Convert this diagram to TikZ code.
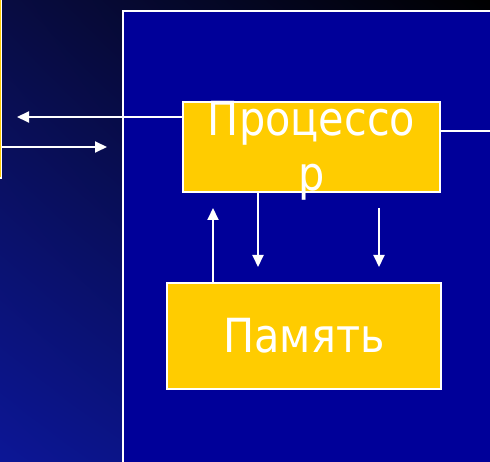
\documentclass[tikz,border=0pt]{standalone}
\usepackage{fontspec}
\setmainfont[FakeStretch=0.88]{DejaVu Sans}
\usetikzlibrary{arrows.meta,shadings}
\definecolor{bgTL}{RGB}{8,12,66}
\definecolor{bgBL}{RGB}{12,22,150}
\definecolor{bgBR}{RGB}{8,14,96}
\definecolor{panel}{RGB}{0,0,153}
\definecolor{gold}{RGB}{255,204,0}
\tikzset{
  box/.style={draw=white, line width=2pt, fill=gold, inner sep=0pt},
  lbl/.style={text=white, font=\fontsize{47}{56}\selectfont, inner sep=0pt},
  arr/.style={draw=white, line width=2pt, -{Triangle[length=12pt,width=11pt]}},
  wire/.style={draw=white, line width=2pt}
}
\begin{document}
\begin{tikzpicture}[x=1pt,y=-1pt]
\useasboundingbox (0,0) rectangle (490,462);
\shade[upper left=bgTL, upper right=black, lower left=bgBL, lower right=bgBR] (0,0) rectangle (490,462);
% external box (only right edge visible)
\node[box, line width=1.5pt, minimum width=40pt, minimum height=210pt] (ext) at (-18.5,73) {};
% computer panel
\draw[fill=panel, draw=white, line width=2pt] (123,11) rectangle (530,500);
% processor and memory
\node[box, minimum width=257pt, minimum height=90pt] (proc) at (311.5,147) {};
\node[lbl, anchor=base] (proct1) at (311.5,136) {Процессо};
\node[lbl, anchor=base] (proct2) at (311.5,191) {р};
\node[box, minimum width=274pt, minimum height=106pt] (mem) at (304,336) {};
\node[lbl] (memt) at (mem.center) {Память};
% connectors
\coordinate (outL) at (17,117);
\coordinate (inR) at (107,147);
\coordinate (outR) at (492,131);
\draw[arr] (proc.west |- outL) -- (outL);
\draw[arr] (ext.east |- inR) -- (inR);
\draw[wire] (proc.east |- outR) -- (outR);
\coordinate (upT) at (213,208);
\draw[arr] (mem.north -| upT) -- (upT);
\coordinate (dnB) at (258,267);
\draw[arr] (proc.south -| dnB) -- (dnB);
\coordinate (d2T) at (379,208);
\coordinate (d2B) at (379,267);
\draw[arr] (d2T) -- (d2B);
\end{tikzpicture}
\end{document}
